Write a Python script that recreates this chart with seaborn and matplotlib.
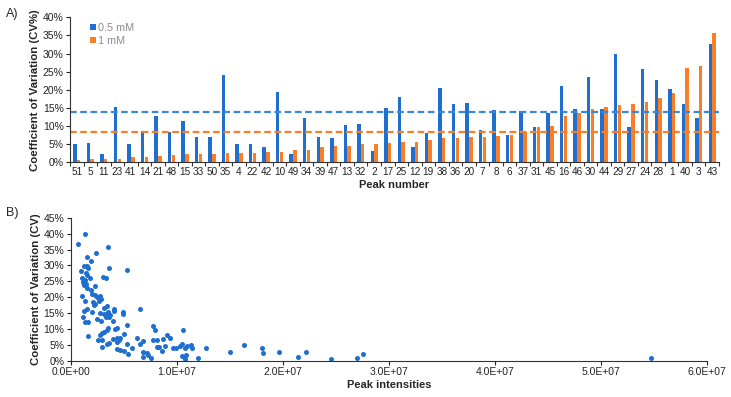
import numpy as np
import pandas as pd
import matplotlib
matplotlib.use('Agg')
import matplotlib.pyplot as plt
from matplotlib.ticker import PercentFormatter, FixedLocator, NullFormatter
import seaborn as sns

# A) CV per peak, two concentrations
peaks = ['51', '5', '11', '23', '41', '14', '21', '48', '15', '33', '50', '35', '4', '22', '42', '10',
         '49', '34', '39', '47', '13', '32', '2', '17', '25', '12', '19', '38', '36', '20', '7', '8',
         '6', '37', '31', '45', '16', '46', '30', '44', '29', '27', '24', '28', '1', '40', '3', '43']
cv_05mm = [5.1, 5.4, 2.2, 15.3, 5.1, 8.6, 12.8, 8.4, 11.4, 7.0, 7.0, 24.1, 5.0, 5.0, 4.3, 19.4,
           2.2, 12.3, 7.0, 6.7, 10.3, 10.7, 3.0, 14.9, 18.1, 4.1, 8.0, 20.5, 16.1, 16.4, 8.9, 14.4,
           7.4, 14.2, 9.7, 13.5, 21.1, 14.8, 23.4, 14.7, 30.0, 9.7, 25.7, 22.8, 20.2, 16.2, 12.1, 32.5]
cv_1mm = [0.6, 0.8, 0.8, 1.0, 1.4, 1.4, 1.6, 2.0, 2.4, 2.4, 2.4, 2.7, 2.7, 2.7, 2.9, 2.9,
          3.3, 3.5, 4.3, 4.6, 4.6, 5.0, 5.1, 5.3, 5.6, 5.6, 6.2, 6.7, 6.7, 7.0, 7.0, 7.2,
          7.4, 8.4, 9.7, 9.9, 12.7, 13.7, 14.7, 15.3, 15.7, 16.2, 16.6, 17.7, 19.1, 26.0, 26.5, 35.6]
mean_05mm = 14.0
mean_1mm = 8.4

# B) CV vs peak intensity (intensity in millions)
intensity_m = [0.72, 1.32, 3.49, 2.39, 1.51, 1.89, 1.23, 1.57, 1.64, 3.65, 5.35, 1.00, 1.45, 1.57,
               3.08, 3.33, 1.07, 1.82, 1.35, 1.19, 1.42, 2.33, 1.26, 1.51, 1.95, 1.98, 1.04, 2.26,
               2.77, 2.45, 2.86, 2.70, 2.08, 1.38, 2.20, 2.33, 3.40, 3.14, 4.12, 4.12, 1.51, 1.26,
               1.98, 2.77, 3.14, 3.40, 3.55, 3.71, 3.33, 3.65, 4.90, 4.90, 1.16, 2.52, 2.83, 3.96,
               6.54, 1.38, 1.67, 5.28, 3.52, 3.40, 4.15, 4.34, 3.14, 2.96, 2.77, 1.67, 5.03, 7.74,
               7.96, 10.6, 9.06, 9.37, 6.23, 6.86, 8.68, 8.18, 7.80, 2.58, 2.96, 4.00, 4.34, 4.65,
               4.53, 3.65, 3.46, 5.35, 4.40, 6.54, 5.79, 4.34, 4.65, 5.03, 5.44, 2.92, 6.79, 7.17,
               7.26, 6.79, 7.55, 8.11, 8.58, 8.30, 8.87, 9.69, 9.94, 10.3, 10.5, 10.8, 11.0, 11.3,
               11.4, 10.5, 10.8, 10.9, 12.0, 12.8, 15.0, 16.3, 18.0, 18.1, 19.6, 21.4, 22.2, 24.5,
               27.0, 27.6, 54.7]
cv_scatter = [36.9, 39.9, 35.8, 34.0, 32.7, 31.4, 29.8, 29.9, 29.1, 29.2, 28.7, 28.4, 27.6, 27.0,
              26.4, 26.2, 26.2, 26.2, 25.4, 24.7, 24.1, 23.7, 23.9, 22.8, 22.3, 21.1, 20.5, 20.7,
              20.5, 20.2, 19.5, 18.8, 18.4, 18.8, 17.6, 18.0, 17.4, 16.7, 16.3, 15.7, 16.3, 15.8,
              15.5, 15.0, 14.8, 14.4, 15.3, 14.4, 13.8, 13.8, 15.3, 14.7, 13.8, 13.2, 12.6, 12.6,
              16.2, 12.1, 12.1, 11.3, 10.5, 9.8, 10.0, 10.5, 9.2, 8.8, 8.2, 8.0, 8.6, 10.9,
              9.7, 9.8, 8.2, 7.3, 7.1, 6.4, 6.9, 6.5, 6.5, 6.7, 6.7, 6.9, 7.1, 7.3,
              6.7, 5.6, 5.2, 5.4, 6.1, 5.2, 4.2, 3.8, 3.6, 3.1, 2.3, 4.5, 2.9, 2.5,
              1.9, 1.3, 0.8, 4.4, 3.1, 4.4, 4.6, 4.2, 4.2, 4.8, 5.4, 4.0, 4.8, 5.0,
              4.0, 1.5, 0.6, 1.9, 1.0, 4.2, 2.9, 5.0, 4.2, 2.5, 2.9, 1.3, 2.9, 0.6,
              1.0, 2.1, 0.85]

blue = '#1f6fd0'
orange = '#fb7d26'

sns.set_style('white')
plt.rcParams['font.family'] = ['Liberation Sans', 'DejaVu Sans']

fig = plt.figure(figsize=(7.31, 3.97), dpi=100)
ax1 = fig.add_axes([0.0958, 0.5912, 0.8878, 0.3652])
ax2 = fig.add_axes([0.0967, 0.0907, 0.8705, 0.3609])

# ---- A) bar chart
df = pd.DataFrame({
    'Peak': peaks * 2,
    'CV': cv_05mm + cv_1mm,
    'Conc': ['0.5 mM'] * len(peaks) + ['1 mM'] * len(peaks),
})
sns.barplot(data=df, x='Peak', y='CV', hue='Conc', order=peaks, hue_order=['0.5 mM', '1 mM'],
            palette=[blue, orange], saturation=1, width=0.56, gap=0.08, linewidth=0, ax=ax1)
ax1.axhline(mean_05mm, color='#3a86d8', lw=1.6, ls=(0, (3, 1.6)))
ax1.axhline(mean_1mm, color=orange, lw=1.6, ls=(0, (3, 1.6)))
ax1.set_ylim(0, 40)
ax1.set_xlim(-0.5, len(peaks) - 0.5)
ax1.yaxis.set_major_locator(FixedLocator(np.arange(0, 41, 5)))
ax1.yaxis.set_major_formatter(PercentFormatter(decimals=0))
ax1.tick_params(axis='x', which='major', length=0, labelsize=7.2, pad=3.5, colors='#222222')
ax1.xaxis.set_minor_locator(FixedLocator(np.arange(-0.5, len(peaks), 1)))
ax1.xaxis.set_minor_formatter(NullFormatter())
ax1.tick_params(axis='x', which='minor', length=3, width=0.8, color='#333333', bottom=True)
ax1.tick_params(axis='y', length=3, width=0.8, labelsize=7.5, pad=1.5, left=True, colors='#222222')
ax1.set_xlabel('Peak number', fontsize=8, fontweight='bold', labelpad=2)
ax1.set_ylabel('Coefficient of Variation (CV%)', fontsize=8.2, fontweight='bold', labelpad=2)
sns.despine(ax=ax1)
for s in ['left', 'bottom']:
    ax1.spines[s].set_color('#333333')
    ax1.spines[s].set_linewidth(0.8)
leg = ax1.legend(loc='upper left', bbox_to_anchor=(0.016, 1.03), frameon=False, fontsize=7.8,
                 handlelength=0.55, handleheight=0.55, handletextpad=0.2, labelspacing=0.3,
                 labelcolor='#8c8c8c')
fig.text(0.008, 0.965, 'A)', fontsize=9, va='center')

# ---- B) scatter
df_b = pd.DataFrame({'Intensity': np.array(intensity_m) * 1e6, 'CV': cv_scatter})
sns.scatterplot(data=df_b, x='Intensity', y='CV', color=blue, s=13, linewidth=0, ax=ax2)
ax2.set_xlim(0, 6e7)
ax2.set_ylim(0, 45)
ax2.xaxis.set_major_locator(FixedLocator(np.arange(0, 6.01e7, 1e7)))
ax2.set_xticklabels([f'{v:.1E}' for v in np.arange(0, 6.01e7, 1e7)])
ax2.yaxis.set_major_locator(FixedLocator(np.arange(0, 46, 5)))
ax2.yaxis.set_major_formatter(PercentFormatter(decimals=0))
ax2.tick_params(axis='both', length=3, width=0.8, labelsize=7.5, pad=1.5, left=True, bottom=True,
                colors='#222222')
ax2.set_xlabel('Peak intensities', fontsize=8, fontweight='bold', labelpad=2)
ax2.set_ylabel('Coefficient of Variation (CV)', fontsize=8.2, fontweight='bold', labelpad=2)
sns.despine(ax=ax2)
for s in ['left', 'bottom']:
    ax2.spines[s].set_color('#333333')
    ax2.spines[s].set_linewidth(0.8)
fig.text(0.008, 0.463, 'B)', fontsize=9, va='center')

fig.savefig('out.png', dpi=100)
